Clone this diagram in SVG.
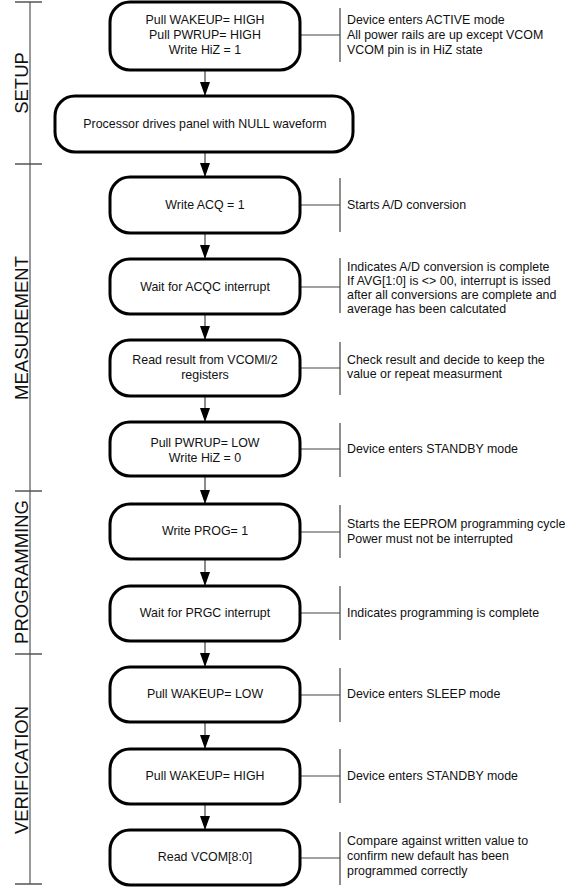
<svg xmlns="http://www.w3.org/2000/svg" width="565" height="887" viewBox="0 0 565 887">
<defs>
<marker id="ah" markerWidth="14" markerHeight="10" refX="14" refY="5" orient="auto" markerUnits="userSpaceOnUse" viewBox="0 0 14 10">
<path d="M0,0 L14,5 L0,10 Z" fill="#000"/>
</marker>
<style>
.box{fill:#fff;stroke:#000;stroke-width:3}
.t{font-family:"Liberation Sans",Arial,sans-serif;font-size:12.4px;fill:#111}
.c{text-anchor:middle}
.lbl{font-family:"Liberation Sans",Arial,sans-serif;font-size:18.5px;fill:#111;text-anchor:middle}
.flow{stroke:#666;stroke-width:1.5;fill:none}
.ann{stroke:#444;stroke-width:1.2;fill:none}
.axis{stroke:#999;stroke-width:2;fill:none}
.tick{stroke:#555;stroke-width:1.5;fill:none}
</style>
</defs>
<rect width="565" height="887" fill="#fff"/>

<g id="phase-axis">
<line class="axis" x1="30" y1="2" x2="30" y2="884"/>
<line class="tick" x1="15" y1="2" x2="42" y2="2"/>
<line class="tick" x1="15" y1="164" x2="42" y2="164"/>
<line class="tick" x1="15" y1="491" x2="42" y2="491"/>
<line class="tick" x1="15" y1="654" x2="42" y2="654"/>
<line class="tick" x1="15" y1="884" x2="42" y2="884"/>
<text class="lbl" transform="translate(22,83) rotate(-90)" dy="6">SETUP</text>
<text class="lbl" transform="translate(22,328) rotate(-90)" dy="6">MEASUREMENT</text>
<text class="lbl" transform="translate(22,572) rotate(-90)" dy="6">PROGRAMMING</text>
<text class="lbl" transform="translate(22,770) rotate(-90)" dy="6">VERIFICATION</text>
</g>

<g id="connectors">
<line class="flow" x1="205" y1="70" x2="205" y2="96" marker-end="url(#ah)"/>
<line class="flow" x1="205" y1="152" x2="205" y2="177" marker-end="url(#ah)"/>
<line class="flow" x1="205" y1="233" x2="205" y2="259" marker-end="url(#ah)"/>
<line class="flow" x1="205" y1="314" x2="205" y2="340" marker-end="url(#ah)"/>
<line class="flow" x1="205" y1="396" x2="205" y2="422" marker-end="url(#ah)"/>
<line class="flow" x1="205" y1="476" x2="205" y2="504" marker-end="url(#ah)"/>
<line class="flow" x1="205" y1="559" x2="205" y2="586" marker-end="url(#ah)"/>
<line class="flow" x1="205" y1="641" x2="205" y2="667" marker-end="url(#ah)"/>
<line class="flow" x1="205" y1="722" x2="205" y2="749" marker-end="url(#ah)"/>
<line class="flow" x1="205" y1="804" x2="205" y2="830" marker-end="url(#ah)"/>
<!-- annotation brackets -->
<path class="ann" d="M300,35 H340 M340,8 V62"/>
<path class="ann" d="M300,205 H340 M340,178 V232"/>
<path class="ann" d="M300,287 H340 M340,258 V313"/>
<path class="ann" d="M300,368 H340 M340,342 V395"/>
<path class="ann" d="M300,449 H340 M340,423 V477"/>
<path class="ann" d="M300,532 H340 M340,505 V558"/>
<path class="ann" d="M300,613 H340 M340,586 V640"/>
<path class="ann" d="M300,695 H340 M340,668 V722"/>
<path class="ann" d="M300,776 H340 M340,749 V803"/>
<path class="ann" d="M300,858 H340 M340,832 V885"/>
</g>

<g id="n1">
<rect class="box" x="110" y="2" width="190" height="68" rx="20"/>
<text class="t c" x="205" y="24">Pull WAKEUP= HIGH</text>
<text class="t c" x="205" y="39">Pull PWRUP= HIGH</text>
<text class="t c" x="205" y="54">Write HiZ = 1</text>
</g>
<g id="a1">
<text class="t" x="347" y="24">Device enters ACTIVE mode</text>
<text class="t" x="347" y="39">All power rails are up except VCOM</text>
<text class="t" x="347" y="54">VCOM pin is in HiZ state</text>
</g>

<g id="n2">
<rect class="box" x="55" y="96" width="298" height="56" rx="20"/>
<text class="t c" x="205" y="128">Processor drives panel with NULL waveform</text>
</g>

<g id="n3">
<rect class="box" x="110" y="177" width="190" height="56" rx="20"/>
<text class="t c" x="205" y="209">Write ACQ = 1</text>
</g>
<g id="a3"><text class="t" x="347" y="209">Starts A/D conversion</text></g>

<g id="n4">
<rect class="box" x="110" y="259" width="190" height="55" rx="20"/>
<text class="t c" x="205" y="291">Wait for ACQC interrupt</text>
</g>
<g id="a4">
<text class="t" x="347" y="271">Indicates A/D conversion is complete</text>
<text class="t" x="347" y="285">If AVG[1:0] is &lt;&gt; 00, interrupt is issed</text>
<text class="t" x="347" y="299">after all conversions are complete and</text>
<text class="t" x="347" y="313">average has been calcutated</text>
</g>

<g id="n5">
<rect class="box" x="110" y="340" width="190" height="56" rx="20"/>
<text class="t c" x="205" y="364">Read result from VCOMl/2</text>
<text class="t c" x="205" y="379">registers</text>
</g>
<g id="a5">
<text class="t" x="347" y="364">Check result and decide to keep the</text>
<text class="t" x="347" y="378">value or repeat measurment</text>
</g>

<g id="n6">
<rect class="box" x="110" y="422" width="190" height="54" rx="20"/>
<text class="t c" x="205" y="447">Pull PWRUP= LOW</text>
<text class="t c" x="205" y="462">Write HiZ = 0</text>
</g>
<g id="a6"><text class="t" x="347" y="453">Device enters STANDBY mode</text></g>

<g id="n7">
<rect class="box" x="110" y="504" width="190" height="55" rx="20"/>
<text class="t c" x="205" y="535">Write PROG= 1</text>
</g>
<g id="a7">
<text class="t" x="347" y="528">Starts the EEPROM programming cycle</text>
<text class="t" x="347" y="543">Power must not be interrupted</text>
</g>

<g id="n8">
<rect class="box" x="110" y="586" width="190" height="55" rx="20"/>
<text class="t c" x="205" y="617">Wait for PRGC interrupt</text>
</g>
<g id="a8"><text class="t" x="347" y="617">Indicates programming is complete</text></g>

<g id="n9">
<rect class="box" x="110" y="667" width="190" height="55" rx="20"/>
<text class="t c" x="205" y="698">Pull WAKEUP= LOW</text>
</g>
<g id="a9"><text class="t" x="347" y="698">Device enters SLEEP mode</text></g>

<g id="n10">
<rect class="box" x="110" y="749" width="190" height="55" rx="20"/>
<text class="t c" x="205" y="780">Pull WAKEUP= HIGH</text>
</g>
<g id="a10"><text class="t" x="347" y="780">Device enters STANDBY mode</text></g>

<g id="n11">
<rect class="box" x="110" y="830" width="190" height="55" rx="20"/>
<text class="t c" x="205" y="861">Read VCOM[8:0]</text>
</g>
<g id="a11">
<text class="t" x="347" y="845">Compare against written value to</text>
<text class="t" x="347" y="860">confirm new default has been</text>
<text class="t" x="347" y="875">programmed correctly</text>
</g>
</svg>
